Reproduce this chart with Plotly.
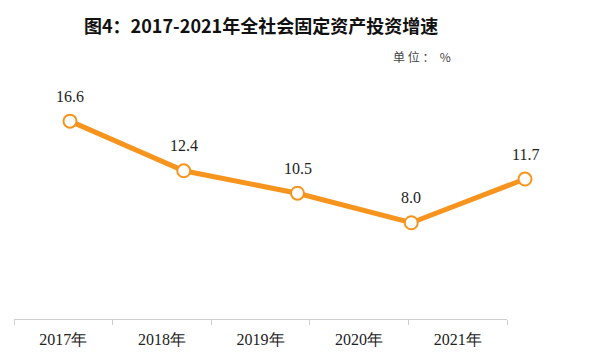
import plotly.graph_objects as go

categories = ["2017年", "2018年", "2019年", "2020年", "2021年"]
values = [16.6, 12.4, 10.5, 8.0, 11.7]
labels = ["16.6", "12.4", "10.5", "8.0", "11.7"]

W, H = 600, 364
OFF = 8  # page body margin


def fx(t):
    return (t - OFF) / W


def fy(t):
    return 1 - (t - OFF) / H


step = 113.75
first = 70 - OFF
r0 = -first / step
r1 = r0 + W / step

fig = go.Figure()
fig.add_trace(go.Scatter(x=categories, y=[None] * 5, xaxis="x", yaxis="y",
                         showlegend=False, hoverinfo="skip"))
fig.add_trace(go.Scatter(
    x=list(range(len(values))), y=values, xaxis="x2", yaxis="y",
    mode="lines+markers",
    line=dict(color="#F7941D", width=5),
    marker=dict(size=13, color="white", line=dict(color="#F7941D", width=2)),
    showlegend=False, cliponaxis=False))

annotations = [
    dict(x=i, y=v, xref="x2", yref="y", text=t, showarrow=False, yshift=25,
         font=dict(family="Liberation Serif", size=16, color="#222"))
    for i, (v, t) in enumerate(zip(values, labels))
]
annotations += [
    dict(text="<b>图4：2017-2021年全社会固定资产投资增速</b>", x=fx(261), y=fy(25),
         xref="paper", yref="paper", showarrow=False, xanchor="center", yanchor="middle",
         font=dict(family="Noto Sans CJK SC", size=18, color="#111")),
    dict(text="单 位 ：  %", x=fx(453), y=fy(57), xref="paper", yref="paper",
         showarrow=False, xanchor="right", yanchor="middle",
         font=dict(family="Noto Sans CJK SC", size=12, color="#444")),
]

fig.update_layout(
    width=W, height=H, margin=dict(l=0, r=0, t=0, b=0),
    paper_bgcolor="white", plot_bgcolor="rgba(0,0,0,0)",
    xaxis=dict(domain=[fx(14), fx(507)], type="category", range=[-0.5, 4.5],
               showline=True, linecolor="#d0d0d0", linewidth=1, ticks="outside",
               tickson="boundaries", ticklen=5, tickcolor="#d0d0d0",
               ticklabelstandoff=6,
               showgrid=False, zeroline=False,
               tickfont=dict(family="Liberation Serif", size=16, color="#222"),
               anchor="y"),
    xaxis2=dict(domain=[0, 1], range=[r0, r1], visible=False, anchor="y"),
    yaxis=dict(domain=[fy(319), fy(81)], range=[-0.15, 20], visible=False),
    annotations=annotations,
)
fig.write_html("out.html")
